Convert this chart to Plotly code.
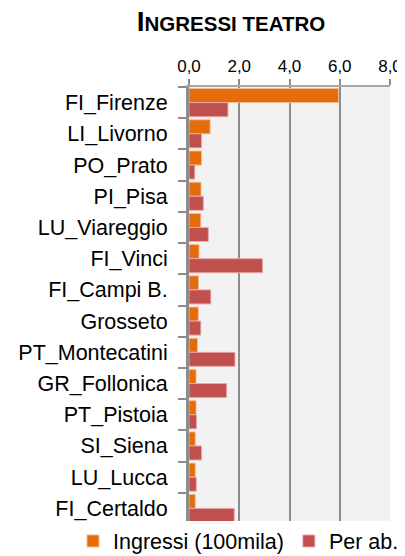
import plotly.graph_objects as go

categories = ["FI_Firenze", "LI_Livorno", "PO_Prato", "PI_Pisa", "LU_Viareggio", "FI_Vinci",
              "FI_Campi B.", "Grosseto", "PT_Montecatini", "GR_Follonica", "PT_Pistoia",
              "SI_Siena", "LU_Lucca", "FI_Certaldo"]
ingressi = [5.95, 0.84, 0.50, 0.48, 0.47, 0.40, 0.38, 0.37, 0.34, 0.28, 0.28, 0.25, 0.25, 0.25]
per_ab = [1.55, 0.50, 0.23, 0.57, 0.77, 2.93, 0.87, 0.47, 1.83, 1.50, 0.30, 0.50, 0.29, 1.80]
x_ticks = [0, 2, 4, 6, 8]

FONT = "Liberation Sans"
W, H = 397, 548  # page body has an 8px margin
ML, MR, MT, MB = 181, 15, 79, 32
PW, PH = W - ML - MR, H - MT - MB

fig = go.Figure()
fig.add_trace(go.Bar(y=categories, x=ingressi, orientation="h", name="Ingressi (100mila)",
                     marker=dict(color="#E46C0A", line=dict(color="rgba(245,190,150,0.9)", width=1))))
fig.add_trace(go.Bar(y=categories, x=per_ab, orientation="h", name="Per ab.",
                     marker=dict(color="#C0504D", line=dict(color="rgba(235,170,170,0.9)", width=1))))

fig.update_layout(
    width=W, height=H,
    margin=dict(l=ML, r=MR, t=MT, b=MB, autoexpand=False),
    paper_bgcolor="white", plot_bgcolor="#F2F2F2",
    barmode="group", bargap=0.1, bargroupgap=0,
    separators=",.",
    font=dict(family=FONT, color="black", size=20),
    title=dict(text="<b>I<span style='font-size:20.5px'>NGRESSI TEATRO</span></b>",
               x=223/W, xanchor="center", xref="container",
               y=1 - 13/H, yanchor="middle", yref="container",
               font=dict(family=FONT, size=28, color="black")),
    showlegend=True,
    legend=dict(orientation="h", x=(65 - ML)/PW, xanchor="left", xref="paper",
                y=-(533 - (H - MB))/PH, yanchor="middle",
                font=dict(family=FONT, size=21.5, color="black"),
                itemwidth=30, traceorder="normal",
                tracegroupgap=0),
    xaxis=dict(side="top", range=[0, 8], tickvals=x_ticks, tickformat=".1f",
               showgrid=True, gridcolor="#8C8C8C", gridwidth=2,
               showline=True, linecolor="#A6A6A6", linewidth=2,
               ticks="outside", ticklen=6, tickcolor="#8C8C8C", tickwidth=2,
               tickfont=dict(family=FONT, size=17, color="black"),
               zeroline=False, fixedrange=True, automargin=False),
    yaxis=dict(autorange="reversed", showline=True, linecolor="#8C8C8C", linewidth=3,
               ticks="outside", tickson="boundaries", ticklen=8, tickcolor="#8C8C8C", tickwidth=2,
               ticklabelstandoff=14,
               tickfont=dict(family=FONT, size=21.5, color="black"),
               showgrid=False, fixedrange=True, automargin=False),
)

fig.write_html("out.html")
